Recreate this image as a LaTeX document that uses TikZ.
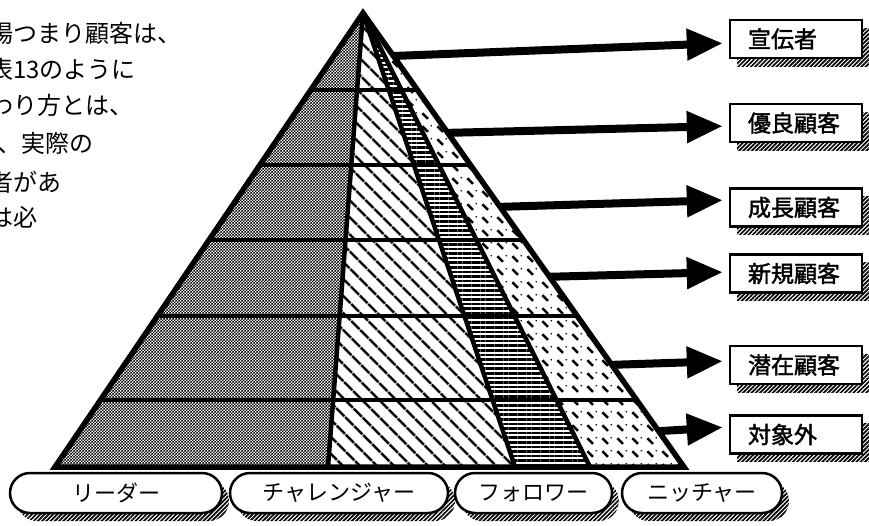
\documentclass[tikz,border=0pt]{standalone}
\usepackage{fontspec}
\newfontfamily\gothic{Noto Sans CJK JP}
\newfontfamily\gothicb{Noto Sans CJK JP}[FakeBold=1.8]
\usetikzlibrary{calc,arrows.meta,shadows,patterns.meta}

\tikzdeclarepattern{
  name=checker,
  type=uncolored,
  bottom left={(0pt,0pt)},
  top right={(3.4pt,3.4pt)},
  tile size={(3.4pt,3.4pt)},
  code={
    \fill (0pt,0pt) rectangle (1.7pt,1.7pt) (1.7pt,1.7pt) rectangle (3.4pt,3.4pt);
  }
}
\tikzdeclarepattern{
  name=nichedash,
  type=uncolored,
  bottom left={(0pt,0pt)},
  top right={(15pt,13pt)},
  tile size={(15pt,13pt)},
  code={
    \draw[line width=2.6pt] (2.5pt,10.5pt) -- (8.5pt,4.5pt);
    \fill (12pt,11pt) circle (1pt);
  }
}

\begin{document}
\begin{tikzpicture}[x=1pt, y=-1pt,
    rule/.style={line width=4.5pt},
    pointer/.style={line width=8pt, -{Triangle[length=36pt,width=30pt]}, shorten >=6pt},
    hatchshadow/.style={drop shadow={shadow xshift=7pt, shadow yshift=-8pt, opacity=1,
        pattern={Lines[angle=45,distance=3pt,line width=1.7pt]}}},
    tag/.style={draw, line width=2.4pt, fill=white, minimum height=38pt, inner xsep=18pt,
        text width=96pt, align=left, font=\gothicb\fontsize{23}{25}\selectfont, hatchshadow},
    oval/.style={draw, line width=2.5pt, fill=white, rounded corners=20pt, minimum height=40pt,
        font=\gothic\fontsize{22}{24}\selectfont, hatchshadow},
    body/.style={anchor=west, inner sep=0pt, font=\gothic\fontsize{24}{28}\selectfont}]
    \fill[white] (0,0) rectangle (869,525);
    \useasboundingbox (0,0) rectangle (869,525);

    % page text cut by the margin
    \node[body] (p1) at (-11,33) {場つまり顧客は、};
    \node[body] (p2) at (-11,69) {表13のように};
    \node[body] (p3) at (-11,105) {わり方とは、};
    \node[body] (p4) at (-3,143) {、実際の};
    \node[body] (p5) at (-11,182) {者があ};
    \node[body] (p6) at (-11,217) {は必};

    % pyramid
    \coordinate (A) at (363,13);
    \coordinate (L) at (55,467);
    \coordinate (R) at (684,467);
    \coordinate (d1) at (328,467);
    \coordinate (d2) at (515,467);
    \coordinate (d3) at (590,467);
    \fill[pattern=checker] (A) -- (L) -- (d1) -- cycle;
    \fill[pattern={Lines[angle=-45,distance=13pt,line width=3pt]}] (A) -- (d1) -- (d2) -- cycle;
    \fill[pattern={Lines[angle=0,distance=4.6pt,line width=2.6pt]}] (A) -- (d2) -- (d3) -- cycle;
    \fill[pattern=nichedash] (A) -- (d3) -- (R) -- cycle;
    \foreach \t in {0.1696,0.3348,0.4999,0.6674,0.8524}
        \draw[rule] ($(A)!\t!(L)$) -- ($(A)!\t!(R)$);
    \foreach \d in {d1,d2,d3}
        \draw[rule] (A) -- (\d);
    \draw[line width=5.5pt] (A) -- (L) -- (R) -- cycle;

    % customer levels
    \foreach \n/\y/\lab/\t/\s in {adv/39/宣伝者/0.0947/-4pt, loyal/123/優良顧客/0.264/-3pt,
        grow/207.5/成長顧客/0.427/7.5pt, newc/273.5/新規顧客/0.581/1.5pt,
        pot/365/潜在顧客/0.775/4pt, outs/434.5/対象外/0.921/7.5pt} {
        \node[tag] (\n) at (796,\y) {\lab};
        \coordinate (e\n) at ($(A)!\t!(R)$);
        \draw[pointer] (e\n) -- ([yshift=\s]\n.west);
    }

    % market positions
    \node[oval, minimum width=212pt] (lead) at (116,493) {リーダー};
    \node[oval, minimum width=218pt] (chal) at (339,493) {チャレンジャー};
    \node[oval, minimum width=157pt] (foll) at (533.5,493) {フォロワー};
    \node[oval, minimum width=160pt] (nich) at (702,493) {ニッチャー};
\end{tikzpicture}
\end{document}
